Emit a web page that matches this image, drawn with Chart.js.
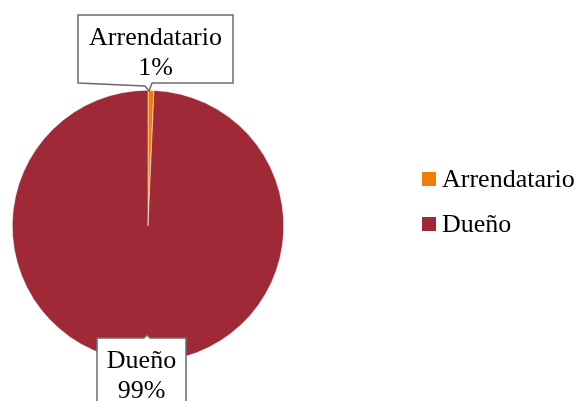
<!DOCTYPE html>
<html>
<head>
<meta charset="utf-8">
<script src="https://cdn.jsdelivr.net/npm/chart.js@4/dist/chart.umd.min.js"></script>
<style>
  html, body { margin: 0; padding: 0; background: #ffffff; }
  #grafica { display: block; }
</style>
</head>
<body>
<canvas id="grafica" width="579" height="401"></canvas>
<script>
const categorias = ["Arrendatario", "Dueño"];
const porcentajes = [0.7, 99.3];
const etiquetasPct = ["1%", "99%"];
const colores = ["#F07F09", "#9F2936"];

const fuente = '"Liberation Serif", "Times New Roman", serif';

// cajas de texto tipo "callout" de Excel
const cajas = [
    { x: 78, y: 15, w: 155, h: 68, punta: { x: 149, y: 91 }, lado: "abajo" },
    { x: 97, y: 338, w: 89, h: 80, punta: { x: 147, y: 335 }, lado: "arriba" },
];

const pluginEtiquetas = {
    id: "etiquetas",
    afterDatasetsDraw(chart) {
        const ctx = chart.ctx;
        ctx.save();
        cajas.forEach((c, i) => {
            ctx.beginPath();
            if (c.lado === "abajo") {
                ctx.moveTo(c.x, c.y);
                ctx.lineTo(c.x + c.w, c.y);
                ctx.lineTo(c.x + c.w, c.y + c.h);
                ctx.lineTo(c.punta.x + 3, c.y + c.h);
                ctx.lineTo(c.punta.x, c.punta.y);
                ctx.lineTo(c.punta.x - 4, c.y + c.h + 3);
                ctx.lineTo(c.x, c.y + c.h);
            } else {
                ctx.moveTo(c.x, c.y);
                ctx.lineTo(c.punta.x - 3, c.y);
                ctx.lineTo(c.punta.x, c.punta.y);
                ctx.lineTo(c.punta.x + 3, c.y);
                ctx.lineTo(c.x + c.w, c.y);
                ctx.lineTo(c.x + c.w, c.y + c.h);
                ctx.lineTo(c.x, c.y + c.h);
            }
            ctx.closePath();
            ctx.fillStyle = "#ffffff";
            ctx.fill();
            ctx.strokeStyle = "#6b6b6b";
            ctx.lineWidth = 1.5;
            ctx.stroke();

            ctx.fillStyle = "#000000";
            ctx.font = "26px " + fuente;
            ctx.textAlign = "center";
            ctx.textBaseline = "middle";
            const cx = c.x + c.w / 2;
            ctx.fillText(categorias[i], cx, c.y + 23);
            ctx.fillText(etiquetasPct[i], cx, c.y + 53);
        });
        ctx.restore();
    },
    afterDraw(chart) {
        const ctx = chart.ctx;
        ctx.save();
        ctx.font = "26px " + fuente;
        ctx.textAlign = "left";
        ctx.textBaseline = "middle";
        categorias.forEach((cat, i) => {
            const y = 179 + i * 45;
            ctx.fillStyle = colores[i];
            ctx.fillRect(422, y - 7, 14, 14);
            ctx.fillStyle = "#000000";
            ctx.fillText(cat, 442, y + 1);
        });
        ctx.restore();
    }
};

new Chart(document.getElementById("grafica"), {
    type: "pie",
    data: {
        labels: categorias,
        datasets: [{
            data: porcentajes,
            backgroundColor: colores,
            borderColor: "#ffffff",
            borderWidth: 0.5,
            hoverOffset: 0,
        }]
    },
    options: {
        responsive: false,
        animation: false,
        layout: { padding: { left: 12, top: 90, right: 295, bottom: 39 } },
        plugins: {
            legend: { display: false },
            tooltip: { enabled: false },
        }
    },
    plugins: [pluginEtiquetas]
});
</script>
</body>
</html>
